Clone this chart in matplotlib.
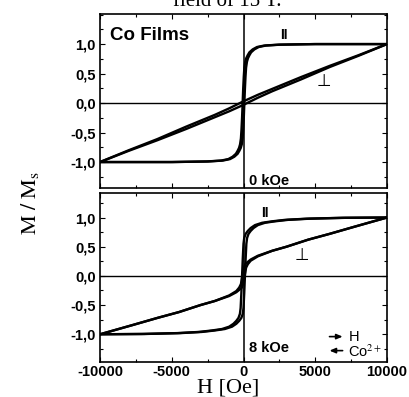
import matplotlib
matplotlib.use("Agg")
import matplotlib.pyplot as plt
from matplotlib.ticker import MultipleLocator, FixedLocator

plt.rcParams['mathtext.fontset'] = 'stix'

# ---------------- data ----------------
# Top panel, 0 kOe, parallel loop
top_par_desc_H = [10000, 4940, 2440, 1440, 940, 640, 410, 290, 190, 120, 60, 20, -20, -60,
                  -100, -140, -180, -240, -310, -410, -530, -760, -1060, -1560, -2560, -5060, -10000]
top_par_desc_M = [1.0, 1.0, 0.99, 0.975, 0.95, 0.91, 0.86, 0.81, 0.76, 0.70, 0.60, 0.45, 0.25, 0.0,
                  -0.25, -0.45, -0.60, -0.70, -0.76, -0.81, -0.86, -0.91, -0.95, -0.975, -0.99, -1.0, -1.0]
top_par_asc_H = [-10000, -4940, -2440, -1440, -940, -640, -410, -290, -190, -120, -60, -20, 20, 60,
                 100, 140, 180, 240, 310, 410, 530, 760, 1060, 1560, 2560, 5060, 10000]
top_par_asc_M = [-1.0, -1.0, -0.99, -0.975, -0.95, -0.91, -0.86, -0.81, -0.76, -0.70, -0.60, -0.45, -0.25, 0.0,
                 0.25, 0.45, 0.60, 0.70, 0.76, 0.81, 0.86, 0.91, 0.95, 0.975, 0.99, 1.0, 1.0]

# Top panel, 0 kOe, perpendicular loop
top_perp_desc_H = [10000, 8000, 6000, 4000, 3000, 2000, 1000, 500, 0, -500, -1000, -2000, -3000, -4000, -6000, -8000, -10000]
top_perp_desc_M = [1.0, 0.81, 0.63, 0.44, 0.34, 0.24, 0.14, 0.085, 0.03, -0.03, -0.09, -0.20, -0.30, -0.40, -0.61, -0.80, -1.0]
top_perp_asc_H = [-10000, -8000, -6000, -4000, -3000, -2000, -1000, -500, 0, 500, 1000, 2000, 3000, 4000, 6000, 8000, 10000]
top_perp_asc_M = [-1.0, -0.81, -0.63, -0.44, -0.34, -0.24, -0.14, -0.085, -0.03, 0.03, 0.09, 0.20, 0.30, 0.40, 0.61, 0.80, 1.0]

# Bottom panel, 8 kOe, parallel loop
bot_par_desc_H = [10000, 6900, 4400, 2900, 2000, 1300, 800, 500, 300, 150, 50, 0, -50, -100,
                  -150, -200, -250, -350, -500, -700, -1000, -1500, -2200, -3100, -4600, -7100, -10000]
bot_par_desc_M = [1.0, 0.995, 0.98, 0.96, 0.935, 0.91, 0.87, 0.82, 0.77, 0.72, 0.65, 0.55, 0.30, 0.0,
                  -0.30, -0.55, -0.65, -0.72, -0.77, -0.82, -0.87, -0.91, -0.935, -0.96, -0.98, -0.995, -1.0]
bot_par_asc_H = [-10000, -6900, -4400, -2900, -2000, -1300, -800, -500, -300, -150, -50, 0, 50, 100,
                 150, 200, 250, 350, 500, 700, 1000, 1500, 2200, 3100, 4600, 7100, 10000]
bot_par_asc_M = [-1.0, -0.995, -0.98, -0.96, -0.935, -0.91, -0.87, -0.82, -0.77, -0.72, -0.65, -0.55, -0.30, 0.0,
                 0.30, 0.55, 0.65, 0.72, 0.77, 0.82, 0.87, 0.91, 0.935, 0.96, 0.98, 0.995, 1.0]

# Bottom panel, 8 kOe, perpendicular loop
bot_perp_desc_H = [10000, 7700, 6000, 4500, 3000, 2000, 1000, 500, 250, 120, 20, -80, -180, -300, -500, -1000, -2000, -3000, -4500, -6000, -7700, -10000]
bot_perp_desc_M = [1.0, 0.84, 0.72, 0.62, 0.50, 0.43, 0.345, 0.28, 0.23, 0.20, 0.14, 0.0, -0.14, -0.20, -0.26, -0.335, -0.43, -0.50, -0.62, -0.72, -0.84, -1.0]
bot_perp_asc_H = [-10000, -7700, -6000, -4500, -3000, -2000, -1000, -500, -250, -120, -20, 80, 180, 300, 500, 1000, 2000, 3000, 4500, 6000, 7700, 10000]
bot_perp_asc_M = [-1.0, -0.84, -0.72, -0.62, -0.50, -0.43, -0.345, -0.28, -0.23, -0.20, -0.14, 0.0, 0.14, 0.20, 0.26, 0.335, 0.43, 0.50, 0.62, 0.72, 0.84, 1.0]

x_ticks = [-10000, -5000, 0, 5000, 10000]
x_tick_labels = ['-10000', '-5000', '0', '5000', '10000']
y_ticks = [-1.0, -0.5, 0.0, 0.5, 1.0]
y_tick_labels = ['-1,0', '-0,5', '0,0', '0,5', '1,0']

# ---------------- figure ----------------
W, H = 409, 397
fig = plt.figure(figsize=(W / 100, H / 100), dpi=100)

def fx(px):
    return px / W

def fy(py):
    return 1 - py / H

left, right = 100, 387
ax1 = fig.add_axes([fx(left), fy(188), fx(right) - fx(left), fy(14) - fy(188)])
ax2 = fig.add_axes([fx(left), fy(362), fx(right) - fx(left), fy(193) - fy(362)])

sans_b = dict(family='Liberation Sans', weight='bold')

for ax, ylim in ((ax1, (-1.44, 1.51)), (ax2, (-1.475, 1.42))):
    ax.set_xlim(-10000, 10000)
    ax.set_ylim(*ylim)
    ax.axhline(0, color='black', lw=1.0, zorder=1)
    ax.axvline(0, color='black', lw=1.1, zorder=1)
    for s in ax.spines.values():
        s.set_linewidth(1.2)
    ax.xaxis.set_major_locator(FixedLocator(x_ticks))
    ax.xaxis.set_minor_locator(MultipleLocator(2500))
    ax.yaxis.set_major_locator(FixedLocator(y_ticks))
    ax.yaxis.set_minor_locator(MultipleLocator(0.25))
    ax.tick_params(which='both', direction='in', top=True, right=True, width=0.8)
    ax.tick_params(which='major', length=3.5)
    ax.tick_params(which='minor', length=2)
    ax.set_yticks(y_ticks)
    ax.set_yticklabels(y_tick_labels, fontsize=10.5, **sans_b)
    ax.tick_params(axis='y', pad=3)

ax1.set_xticks(x_ticks)
ax1.set_xticklabels([])
ax2.set_xticks(x_ticks)
ax2.set_xticklabels(x_tick_labels, fontsize=10.5, **sans_b)
ax2.tick_params(axis='x', pad=2)

lw = 1.7
ax1.plot(top_par_desc_H, top_par_desc_M, color='black', lw=lw)
ax1.plot(top_par_asc_H, top_par_asc_M, color='black', lw=lw)
ax1.plot(top_perp_desc_H, top_perp_desc_M, color='black', lw=lw)
ax1.plot(top_perp_asc_H, top_perp_asc_M, color='black', lw=lw)

ax2.plot(bot_par_desc_H, bot_par_desc_M, color='black', lw=lw)
ax2.plot(bot_par_asc_H, bot_par_asc_M, color='black', lw=lw)
ax2.plot(bot_perp_desc_H, bot_perp_desc_M, color='black', lw=lw)
ax2.plot(bot_perp_asc_H, bot_perp_asc_M, color='black', lw=lw)

# annotations
ax1.text(-9300, 1.15, 'Co Films', fontsize=13.5, va='center', ha='left', **sans_b)
ax1.text(2800, 1.15, 'II', fontsize=10, va='center', ha='center', **sans_b)
ax1.text(5630, 0.38, '\u22a5', fontsize=12, va='center', ha='center', family='DejaVu Sans')
ax1.text(350, -1.32, '0 kOe', fontsize=10.5, va='center', ha='left', **sans_b)

ax2.text(1500, 1.08, 'II', fontsize=10, va='center', ha='center', **sans_b)
ax2.text(4060, 0.35, '\u22a5', fontsize=12, va='center', ha='center', family='DejaVu Sans')
ax2.text(350, -1.235, '8 kOe', fontsize=10.5, va='center', ha='left', **sans_b)

ax2.annotate('', xy=(7100, -1.04), xytext=(5800, -1.04),
             arrowprops=dict(arrowstyle='-|>,head_length=0.35,head_width=0.15', color='black', lw=1.2))
ax2.annotate('', xy=(5800, -1.28), xytext=(7100, -1.28),
             arrowprops=dict(arrowstyle='-|>,head_length=0.35,head_width=0.15', color='black', lw=1.2))
ax2.text(7300, -1.04, 'H', fontsize=10.5, va='center', ha='left', family='Liberation Sans')
ax2.text(7300, -1.29, 'Co$^{2+}$', fontsize=10.5, va='center', ha='left', family='Liberation Sans')

# axis labels
fig.text(fx(30), fy(203), r'$\mathrm{M\ /\ M_s}$', rotation=90, fontsize=16,
         ha='center', va='center')
fig.text(fx(228), fy(379), 'H [Oe]', fontsize=16, family='Liberation Serif',
         ha='center', va='top')
# cut-off caption at the top
fig.text(fx(227), fy(6), 'field of 15 T.', fontsize=15, family='Liberation Serif',
         ha='center', va='baseline')

fig.savefig('out.png', dpi=100)
